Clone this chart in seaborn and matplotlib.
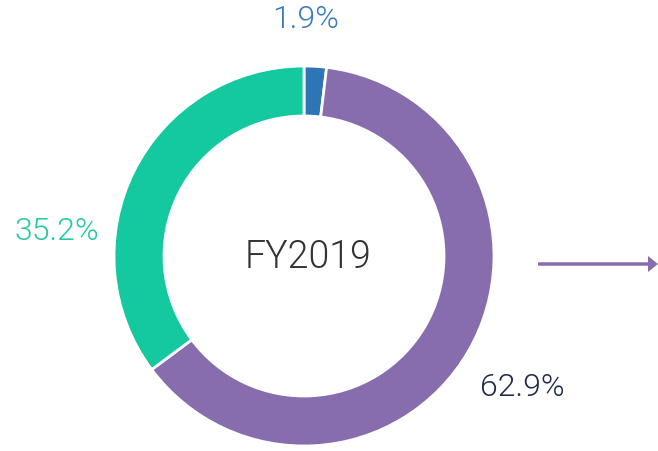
import matplotlib
matplotlib.use("Agg")
import matplotlib.pyplot as plt
import seaborn as sns

# ---- data ----
categories = ["Segment A", "Segment B", "Segment C"]
shares = [1.9, 62.9, 35.2]
label_texts = ["1.9%", "62.9%", "35.2%"]
center_label = "FY2019"

slice_colors = ["#2e75b6", "#876dae", "#14c8a0"]
label_colors = ["#3a7bbf", "#1f2b4a", "#22c9a3"]

sns.set_theme(style="white")
plt.rcParams["font.family"] = ["Roboto", "DejaVu Sans"]

W, H = 658, 451
fig = plt.figure(figsize=(W / 100, H / 100), dpi=100)
ax = fig.add_axes([0, 0, 1, 1])

def py(y):
    return H - y

cx, cy, R, ring = 304, 256, 190, 50
ax.pie(shares, colors=slice_colors, startangle=90, counterclock=False,
       center=(cx, py(cy)), radius=R, frame=True,
       wedgeprops=dict(width=ring, edgecolor="white", linewidth=2))
ax.set_xlim(0, W)
ax.set_ylim(0, H)
ax.set_aspect("equal")
ax.axis("off")

label_pos = [(305.5, 19), (522, 387), (57, 232)]
for txt, col, (x, y) in zip(label_texts, label_colors, label_pos):
    ax.text(x, py(y), txt, color=col, fontsize=23, fontweight=300,
            ha="center", va="center")

ax.text(cx + 4, py(257), center_label, color="#333333", fontsize=27,
        fontweight=300, ha="center", va="center")

ax.arrow(538, py(264), 658 - 538, 0, width=3.5, head_width=16, head_length=10,
         length_includes_head=True, color="#876dae", linewidth=0)

fig.savefig("out.png", dpi=100)
